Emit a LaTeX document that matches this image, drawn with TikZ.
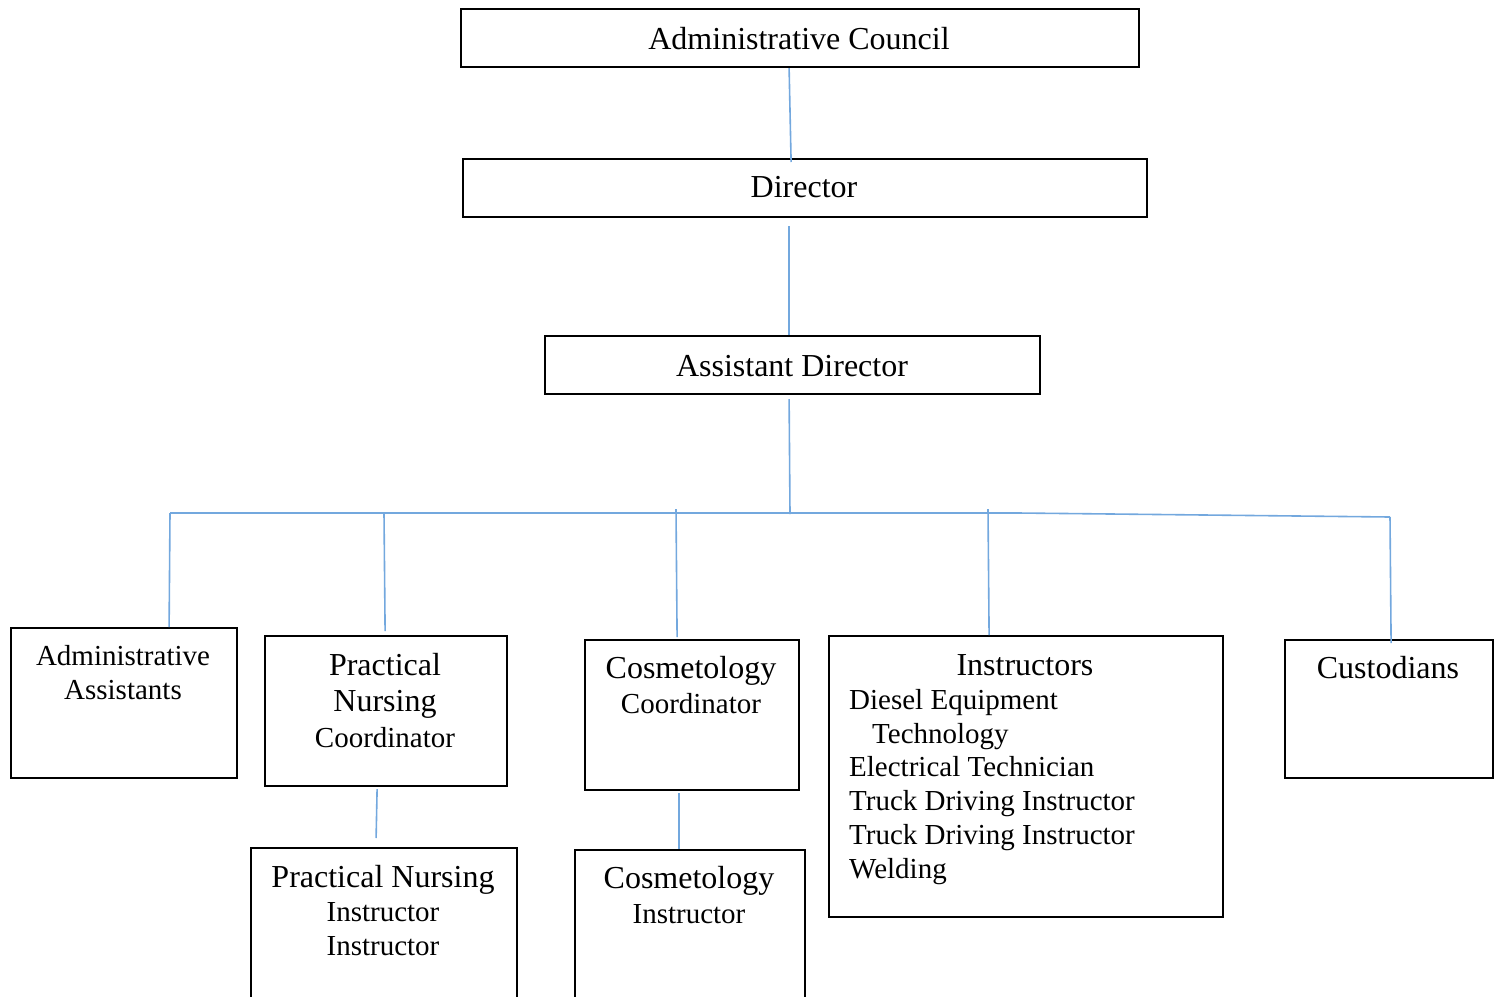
\documentclass[tikz,border=0pt]{standalone}
\usepackage{fontspec}
\setmainfont{Liberation Serif}
\definecolor{linkblue}{RGB}{115,168,222}
\tikzset{
  box/.style={draw=black, line width=2.2pt, rectangle, inner sep=0pt, anchor=north west},
  conn/.style={draw=linkblue, line width=1.6pt},
  big/.style={font=\fontsize{32}{36}\selectfont},
  lbl/.style={inner sep=0pt, anchor=base},
  mlbl/.style={inner sep=0pt, anchor=north, align=center},
}
\newcommand{\smallsz}{\fontsize{29}{34}\selectfont}
\newcommand{\topstrut}{\rule{0pt}{24pt}}
\begin{document}
\begin{tikzpicture}[x=1pt,y=-1pt]
\useasboundingbox (0,0) rectangle (1499,996);
\clip (0,0) rectangle (1499,996);
% boxes
\node[box, minimum width=678, minimum height=58] (ac) at (460,8) {};
\node[box, minimum width=684, minimum height=58] (dir) at (462,158) {};
\node[box, minimum width=495, minimum height=58] (ad) at (544,335) {};
\node[box, minimum width=226, minimum height=150] (aa) at (10,627) {};
\node[box, minimum width=242, minimum height=150] (pnc) at (264,635) {};
\node[box, minimum width=214, minimum height=150] (cc) at (584,639) {};
\node[box, minimum width=394, minimum height=281] (in) at (828,635) {};
\node[box, minimum width=208, minimum height=138] (cu) at (1284,639) {};
\node[box, minimum width=266, minimum height=170] (pni) at (250,847) {};
\node[box, minimum width=230, minimum height=170] (ci) at (574,849) {};
% texts
\node[lbl, big] (act) at (799,49) {Administrative Council};
\node[lbl, big] (dirt) at (804,197) {Director};
\node[lbl, big] (adt) at (792,376) {Assistant Director};
\node[mlbl, font=\fontsize{29}{34}\selectfont] (aat) at (123,641) {\topstrut Administrative\\Assistants};
\node[mlbl, font=\fontsize{32}{36}\selectfont] (pnct) at (385,651) {\topstrut Practical\\Nursing\\{\smallsz Coordinator}};
\node[mlbl, font=\fontsize{32}{35}\selectfont] (cct) at (691,654) {\topstrut Cosmetology\\{\smallsz Coordinator}};
\node[lbl, big] (inh) at (1025,675) {Instructors};
\node[inner sep=0pt, anchor=north west, align=left, font=\fontsize{29}{33.8}\selectfont] (inl) at (849,685)
  {\topstrut Diesel Equipment\\\hspace*{23pt}Technology\\Electrical Technician\\Truck Driving Instructor\\Truck Driving Instructor\\Welding};
\node[lbl, big] (cut) at (1388,678) {Custodians};
\node[mlbl, font=\fontsize{32}{34}\selectfont] (pnit) at (383,863) {\topstrut Practical Nursing\\{\smallsz Instructor}\\{\smallsz Instructor}};
\node[mlbl, font=\fontsize{32}{35}\selectfont] (cit) at (689,864) {\topstrut Cosmetology\\{\smallsz Instructor}};
% bus coordinates
\coordinate (bAA) at (170,513);
\coordinate (bPN) at (384,513);
\coordinate (bC) at (790,514);
\coordinate (tCC) at (676,509);
\coordinate (tIN) at (988,509);
\coordinate (bMid) at (1018,513);
\coordinate (bCU) at (1390,517);
% connectors
\draw[conn] ([xshift=-11pt]ac.south) -- ([xshift=-14pt,yshift=-4pt]dir.north);
\draw[conn] ([xshift=-16pt,yshift=-8pt]dir.south) -- ([xshift=-3.5pt]ad.north);
\draw[conn] ([xshift=-3.5pt,yshift=-4pt]ad.south) -- (bC);
\draw[conn] (bAA) -- (bMid) -- (bCU);
\draw[conn] (bAA) -- ([xshift=45pt]aa.north);
\draw[conn] (bPN) -- ([xshift=-1pt,yshift=4pt]pnc.north);
\draw[conn] (tCC) -- ([xshift=-15pt,yshift=2pt]cc.north);
\draw[conn] (tIN) -- ([xshift=-37pt]in.north);
\draw[conn] (bCU) -- ([xshift=2pt,yshift=-4pt]cu.north);
\draw[conn] ([xshift=-9pt,yshift=-2pt]pnc.south) -- ([xshift=-8pt,yshift=9pt]pni.north);
\draw[conn] ([xshift=-13pt,yshift=-2pt]cc.south) -- ([xshift=-11pt]ci.north);
\end{tikzpicture}
\end{document}
